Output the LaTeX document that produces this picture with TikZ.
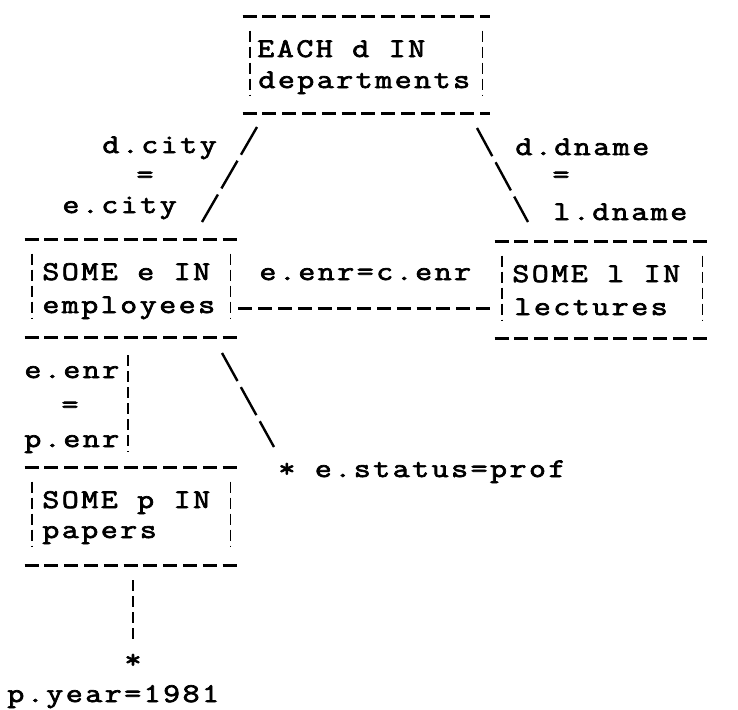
\documentclass[tikz,border=0pt]{standalone}
\usepackage{fontspec}
\newfontfamily\tw[LetterSpace=9.3,FakeStretch=1.22,FakeBold=2.6]{Latin Modern Mono}
\usetikzlibrary{calc}
\newcommand\tyedges[1]{%
  \draw[hdash] (#1.north west) -- (#1.north east);
  \draw[hdash] (#1.south west) -- (#1.south east);
  \draw[vdash] ($(#1.north west)+(7,14)$) -- ($(#1.south west)+(7,-18)$);
  \draw[vdash] ($(#1.north east)+(-8,14)$) -- ($(#1.south east)+(-8,-18)$);
}
\begin{document}
\begin{tikzpicture}[x=0.5pt,y=-0.5pt,
  txt/.style={font=\tw\fontsize{13.5}{15}\selectfont, inner sep=0pt, anchor=base west},
  ctxt/.style={txt, anchor=base},
  tyb/.style={draw=none, inner sep=0pt},
  hdash/.style={line width=1.5pt, dash pattern=on 7pt off 2.9pt},
  vdash/.style={line width=0.9pt, dash pattern=on 5.5pt off 2.5pt},
  sdash/.style={line width=1.2pt, dash pattern=on 16pt off 3.5pt},
]
\useasboundingbox[fill=white] (0,0) rectangle (738,709);

% EACH d IN departments
\node[tyb, minimum width=123.5pt, minimum height=48pt] (dept) at (366.5,65) {};
\tyedges{dept}
\node[txt] (dept1) at (257,57) {EACH d IN};
\node[txt] (dept2) at (258,88) {departments};

% left join condition
\node[txt] (dcity) at (102,153) {d.city};
\node[ctxt] (eq1) at (145,183) {=};
\node[txt] (ecity) at (62,213) {e.city};
\coordinate (la) at (257,127);
\coordinate (lb) at (202,222);
\draw[sdash] (la) -- (lb);

% right join condition
\node[txt] (dname) at (515,155) {d.dname};
\node[ctxt] (eq2) at (561,183) {=};
\node[txt] (ldname) at (553,220) {l.dname};
\coordinate (ra) at (477,128);
\coordinate (rb) at (528,222);
\draw[sdash] (ra) -- (rb);

% SOME e IN employees
\node[tyb, minimum width=106.5pt, minimum height=48.5pt] (emp) at (131.5,288.5) {};
\tyedges{emp}
\node[txt] (emp1) at (42,280) {SOME e IN};
\node[txt] (emp2) at (42,313) {employees};

% SOME l IN lectures
\node[tyb, minimum width=107.5pt, minimum height=48pt] (lect) at (602.5,290) {};
\tyedges{lect}
\node[txt] (lect1) at (512,282) {SOME l IN};
\node[txt] (lect2) at (514,315) {lectures};

% e.enr=c.enr
\node[txt] (enr) at (259,280) {e.enr=c.enr};
\draw[hdash] (emp.east |- 0,308) -- (lect.west |- 0,308);

% e.enr = p.enr
\node[txt] (eenr) at (24,378) {e.enr};
\node[ctxt] (eq3) at (70,413) {=};
\node[txt] (penr) at (24,447) {p.enr};
\coordinate (va) at (128,355);
\coordinate (vb) at (128,452);
\draw[vdash] (va) -- (vb);

% e.status=prof
\node[txt] (status) at (278,477) {* e.status=prof};
\coordinate (sa) at (222,353);
\coordinate (sb) at (274,447);
\draw[sdash] (sa) -- (sb);

% SOME p IN papers
\node[tyb, minimum width=106.5pt, minimum height=48.5pt] (pap) at (131.5,516.5) {};
\tyedges{pap}
\node[txt] (pap1) at (42,508) {SOME p IN};
\node[txt] (pap2) at (42,538) {papers};

% p.year=1981
\coordinate (pa) at (133,580);
\node[ctxt] (star) at (133,668) {*};
\draw[vdash] (pa) -- (133,642);
\node[txt] (pyear) at (7,702) {p.year=1981};
\end{tikzpicture}
\end{document}
